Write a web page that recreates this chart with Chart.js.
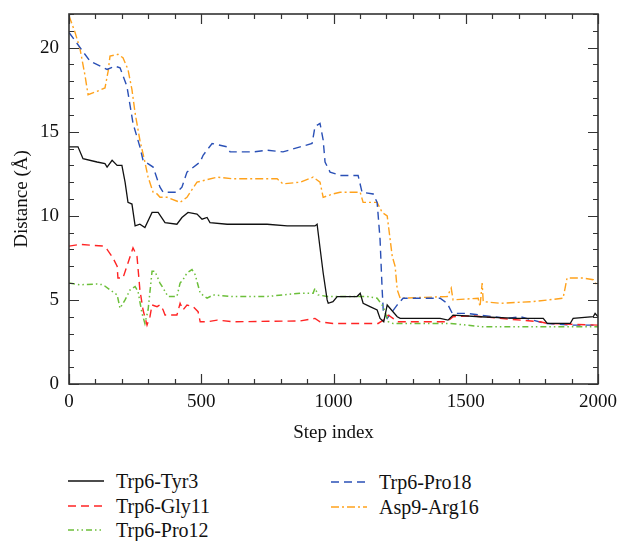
<!DOCTYPE html>
<html>
<head>
<meta charset="utf-8">
<script src="https://cdn.jsdelivr.net/npm/chart.js@4"></script>
<style>
  body { margin: 0; background: #fff; }
  #wrap { position: relative; width: 620px; height: 541px; overflow: hidden; }
  .leg { position: absolute; height: 24px; line-height: 24px; font-family: "Liberation Serif", serif; font-size: 20px; color: #111; white-space: nowrap; }
  .leg canvas { position: absolute; top: 10px; left: 0; }
  .leg span { position: absolute; top: 0; }
</style>
</head>
<body>
<div id="wrap">
  <canvas id="distChart" width="620" height="450"></canvas>
  <div id="legend"></div>
</div>
<script>
// values: step index -> distance (Å)
const tyr3Steps = [0, 34, 53, 106, 136, 144, 163, 182, 200, 212, 223, 238, 250, 268, 287, 314, 337, 363, 408, 427, 450, 484, 503, 522, 533, 598, 749, 825, 930, 938, 949, 961, 976, 980, 998, 1014, 1089, 1101, 1112, 1138, 1165, 1176, 1190, 1203, 1241, 1252, 1403, 1433, 1452, 1554, 1694, 1793, 1808, 1895, 1906, 1982, 1989, 2000];
const tyr3Vals  = [14.1, 14.1, 13.4, 13.2, 13.1, 12.9, 13.3, 13.0, 13.0, 12.0, 10.8, 10.7, 9.4, 9.5, 9.3, 10.2, 10.2, 9.6, 9.5, 9.9, 10.2, 10.1, 9.8, 9.9, 9.6, 9.5, 9.5, 9.4, 9.4, 9.5, 8.1, 6.6, 5.0, 4.8, 4.9, 5.2, 5.2, 5.4, 4.8, 4.6, 4.4, 3.9, 3.7, 4.7, 4.0, 3.9, 3.9, 3.8, 4.1, 4.0, 3.9, 3.9, 3.6, 3.6, 3.9, 4.0, 4.2, 4.0];

const gly11Steps = [0, 42, 129, 144, 166, 182, 185, 204, 223, 242, 257, 268, 280, 295, 306, 314, 333, 344, 356, 363, 408, 420, 431, 446, 469, 488, 496, 522, 560, 620, 874, 930, 949, 998, 1127, 1169, 1188, 1207, 1225, 1241, 1430, 1452, 1528, 1630, 1781, 1808, 2000];
const gly11Vals  = [8.2, 8.3, 8.2, 8.0, 7.5, 7.0, 6.3, 6.3, 7.2, 8.1, 7.6, 5.6, 4.4, 3.5, 4.0, 4.7, 4.6, 4.7, 4.4, 4.1, 4.1, 4.8, 4.4, 4.7, 4.6, 4.3, 3.7, 3.7, 3.8, 3.7, 3.75, 3.9, 3.7, 3.6, 3.6, 3.6, 3.8, 4.1, 3.9, 3.7, 3.7, 4.0, 4.05, 3.9, 3.7, 3.6, 3.5];

const pro12Steps = [0, 42, 106, 129, 155, 182, 193, 212, 231, 250, 261, 276, 287, 299, 314, 325, 344, 356, 374, 408, 420, 431, 446, 465, 477, 496, 522, 545, 620, 749, 809, 874, 923, 930, 942, 976, 1063, 1127, 1165, 1188, 1207, 1225, 1252, 1441, 1566, 1694, 1819, 2000];
const pro12Vals  = [6.0, 5.9, 5.95, 5.9, 5.6, 5.3, 4.5, 5.0, 5.6, 5.8, 5.5, 4.2, 3.6, 4.4, 6.7, 6.7, 6.0, 5.7, 5.2, 5.2, 6.0, 6.2, 6.6, 6.8, 6.5, 5.4, 5.1, 5.3, 5.2, 5.2, 5.3, 5.4, 5.4, 5.7, 5.3, 5.2, 5.2, 5.2, 5.1, 4.6, 3.7, 3.6, 3.6, 3.6, 3.4, 3.4, 3.4, 3.4];

const pro18Steps = [0, 42, 79, 144, 174, 193, 219, 242, 268, 280, 318, 344, 356, 408, 427, 446, 496, 507, 541, 598, 609, 696, 749, 809, 874, 919, 930, 949, 961, 968, 987, 1025, 1093, 1108, 1150, 1165, 1176, 1184, 1188, 1203, 1241, 1263, 1403, 1430, 1449, 1505, 1657, 1706, 1800, 1906, 2000];
const pro18Vals  = [20.9, 20.0, 19.2, 18.7, 18.9, 18.8, 17.7, 15.5, 14.1, 13.3, 12.9, 11.7, 11.4, 11.4, 11.7, 12.6, 13.2, 13.6, 14.3, 14.1, 13.8, 13.8, 13.9, 13.8, 14.1, 14.3, 15.3, 15.5, 14.5, 13.2, 12.6, 12.4, 12.4, 11.4, 11.3, 10.8, 8.6, 5.6, 4.4, 3.9, 4.7, 5.1, 5.1, 4.8, 4.2, 4.2, 3.9, 4.0, 3.6, 3.5, 3.5];

const arg16Steps = [0, 23, 42, 61, 72, 106, 136, 148, 155, 185, 204, 223, 238, 250, 268, 287, 299, 318, 333, 344, 371, 420, 446, 458, 484, 560, 620, 787, 809, 874, 923, 949, 961, 998, 1025, 1101, 1112, 1165, 1184, 1203, 1222, 1233, 1241, 1252, 1430, 1445, 1452, 1547, 1554, 1562, 1566, 1630, 1755, 1868, 1883, 1944, 1982, 2000];
const arg16Vals  = [21.9, 20.9, 19.9, 18.3, 17.2, 17.4, 17.6, 18.6, 19.5, 19.6, 19.4, 18.7, 17.5, 16.1, 14.5, 13.2, 12.3, 11.4, 11.3, 11.1, 11.1, 10.8, 11.1, 11.4, 12.0, 12.3, 12.2, 12.2, 11.9, 12.0, 12.3, 12.0, 11.1, 11.3, 11.4, 11.4, 10.8, 10.8, 10.2, 10.0, 7.6, 7.0, 5.6, 5.1, 5.2, 5.7, 5.0, 5.1, 4.6, 6.0, 4.9, 4.8, 4.9, 5.1, 6.3, 6.3, 6.2, 5.8];

const seriesNames = ["Trp6-Tyr3", "Trp6-Gly11", "Trp6-Pro12", "Trp6-Pro18", "Asp9-Arg16"];
const xTicks = [0, 500, 1000, 1500, 2000];
const yTicks = [0, 5, 10, 15, 20];

const FONT = "Liberation Serif";

const styles = [
  { color: "#111111", dash: [], width: 1.3 },
  { color: "#ff2424", dash: [8, 5], width: 1.4 },
  { color: "#6cbf3a", dash: [6, 3, 1.5, 3, 1.5, 3], width: 1.5 },
  { color: "#2a50b6", dash: [8, 5], width: 1.4 },
  { color: "#ffa21c", dash: [8, 3, 2, 3], width: 1.4 }
];

function pts(steps, vals) {
  return steps.map((s, i) => ({ x: s, y: vals[i] }));
}

const allSeries = [
  pts(tyr3Steps, tyr3Vals),
  pts(gly11Steps, gly11Vals),
  pts(pro12Steps, pro12Vals),
  pts(pro18Steps, pro18Vals),
  pts(arg16Steps, arg16Vals)
];

// box around the plot plus inward ticks on all four sides
const frameTicks = {
  id: "frameTicks",
  afterDatasetsDraw(chart) {
    const { ctx, chartArea: a, scales: { x, y } } = chart;
    ctx.save();
    ctx.strokeStyle = "#333";
    ctx.lineWidth = 1.2;
    ctx.beginPath();
    for (let v = 0; v <= 2000; v += 100) {
      const px = Math.round(x.getPixelForValue(v)) + 0.5;
      const len = v % 500 === 0 ? 10 : 5;
      ctx.moveTo(px, a.bottom); ctx.lineTo(px, a.bottom - len);
      ctx.moveTo(px, a.top); ctx.lineTo(px, a.top + len);
    }
    for (let v = 0; v <= 22; v += 1) {
      const py = Math.round(y.getPixelForValue(v)) + 0.5;
      const len = v % 5 === 0 ? 10 : 5;
      ctx.moveTo(a.left, py); ctx.lineTo(a.left + len, py);
      ctx.moveTo(a.right, py); ctx.lineTo(a.right - len, py);
    }
    ctx.stroke();
    ctx.lineWidth = 1.6;
    ctx.strokeRect(a.left, a.top, a.right - a.left, a.bottom - a.top);
    ctx.restore();
  }
};

new Chart(document.getElementById("distChart"), {
  type: "line",
  data: {
    datasets: allSeries.map((d, i) => ({
      label: seriesNames[i],
      data: d,
      borderColor: styles[i].color,
      borderDash: styles[i].dash,
      borderWidth: styles[i].width,
      pointRadius: 0,
      tension: 0,
      fill: false
    }))
  },
  options: {
    responsive: false,
    animation: false,
    layout: { padding: { left: 0, right: 22, top: 14, bottom: 0 } },
    plugins: { legend: { display: false }, tooltip: { enabled: false } },
    scales: {
      x: {
        type: "linear",
        min: 0,
        max: 2000,
        afterBuildTicks: s => { s.ticks = xTicks.map(v => ({ value: v })); },
        afterFit: s => { s.height = 66; s.paddingLeft = 0; s.paddingRight = 0; },
        grid: { display: false, drawTicks: false },
        border: { display: false },
        ticks: { padding: 7, color: "#111", maxRotation: 0, callback: v => String(v), font: { family: FONT, size: 19 } },
        title: { display: true, text: "Step index", color: "#111", padding: { top: 0, bottom: 6 }, font: { family: FONT, size: 19 } }
      },
      y: {
        type: "linear",
        min: 0,
        max: 22,
        afterBuildTicks: s => { s.ticks = yTicks.map(v => ({ value: v })); },
        afterFit: s => { s.width = 69; s.paddingTop = 0; s.paddingBottom = 0; },
        grid: { display: false, drawTicks: false },
        border: { display: false },
        ticks: { padding: 10, color: "#111", callback: v => String(v), font: { family: FONT, size: 19 } },
        title: { display: true, text: "Distance (Å)", color: "#111", padding: { top: 11, bottom: 0 }, font: { family: FONT, size: 19 } }
      }
    }
  },
  plugins: [frameTicks]
});

// two-column legend under the chart
const legendPos = [
  { x: 68, y: 481 }, { x: 68, y: 506 }, { x: 68, y: 530 },
  { x: 331, y: 482 }, { x: 331, y: 507 }
];
const legend = document.getElementById("legend");
seriesNames.forEach((name, i) => {
  const item = document.createElement("div");
  item.className = "leg";
  item.style.left = legendPos[i].x + "px";
  item.style.top = (legendPos[i].y - 12) + "px";
  const c = document.createElement("canvas");
  c.width = 36; c.height = 4;
  const g = c.getContext("2d");
  g.strokeStyle = styles[i].color;
  g.lineWidth = styles[i].width;
  g.setLineDash(styles[i].dash);
  g.beginPath(); g.moveTo(0, 2); g.lineTo(36, 2); g.stroke();
  const t = document.createElement("span");
  t.style.left = "48px";
  t.textContent = name;
  item.appendChild(c);
  item.appendChild(t);
  legend.appendChild(item);
});
</script>
</body>
</html>
